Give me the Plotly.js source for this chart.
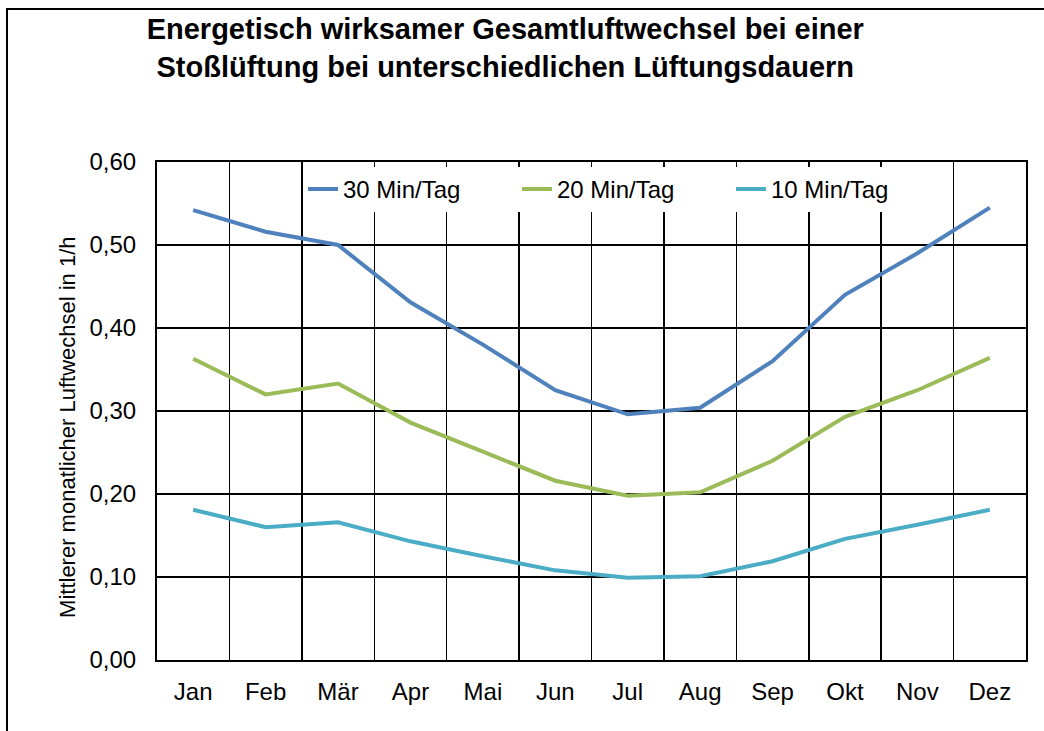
<!DOCTYPE html>
<html>
<head>
<meta charset="utf-8">
<script src="https://cdn.plot.ly/plotly-3.0.1.min.js"></script>
<style>
  html, body { margin: 0; padding: 0; background: #fff; }
  #chart { width: 1044px; height: 731px; }
</style>
</head>
<body>
<div id="chart"></div>
<script>
// Monate (Kategorien)
const monate = ['Jan', 'Feb', 'Mär', 'Apr', 'Mai', 'Jun', 'Jul', 'Aug', 'Sep', 'Okt', 'Nov', 'Dez'];

// mittlerer monatlicher Luftwechsel in 1/h
const min30 = [0.542, 0.516, 0.500, 0.431, 0.380, 0.325, 0.296, 0.304, 0.360, 0.440, 0.490, 0.545];
const min20 = [0.363, 0.320, 0.333, 0.286, 0.251, 0.216, 0.198, 0.202, 0.240, 0.293, 0.325, 0.364];
const min10 = [0.181, 0.160, 0.166, 0.143, 0.125, 0.108, 0.099, 0.101, 0.119, 0.146, 0.163, 0.181];

const serienNamen = ['30 Min/Tag', '20 Min/Tag', '10 Min/Tag'];
const farben = ['#4f81bd', '#9bbb59', '#4bacc6'];

const werte = [min30, min20, min10];
const data = werte.map((y, i) => ({
    x: monate,
    y: y,
    type: 'scatter',
    mode: 'lines',
    name: serienNamen[i],
    line: { color: farben[i], width: 4 }
}));

const layout = {
    width: 1044,
    height: 731,
    margin: { l: 157, r: 18, t: 162, b: 71 },
    paper_bgcolor: '#fff',
    plot_bgcolor: '#fff',
    separators: ',.',
    font: { family: 'Liberation Sans, Arial, sans-serif', size: 24, color: '#000' },
    title: {
        text: '<b>Energetisch wirksamer Gesamtluftwechsel bei einer<br>Stoßlüftung bei unterschiedlichen Lüftungsdauern</b>',
        font: { size: 29, color: '#000' },
        x: 0.484,
        xanchor: 'center',
        y: 0.946,
        yanchor: 'top'
    },
    showlegend: true,
    legend: {
        orientation: 'h',
        x: 0.168,
        y: 0.945,
        xanchor: 'left',
        yanchor: 'middle',
        bgcolor: '#fff',
        font: { size: 24 },
        entrywidth: 169,
        entrywidthmode: 'pixels',
        tracegroupgap: 0
    },
    xaxis: {
        type: 'category',
        tickson: 'boundaries',
        showgrid: true,
        gridcolor: '#000',
        gridwidth: 1.5,
        showline: true,
        linecolor: '#000',
        linewidth: 2,
        mirror: true,
        ticks: '',
        ticklabelstandoff: 9,
        range: [-0.5, 11.5],
        zeroline: false
    },
    yaxis: {
        range: [0, 0.6],
        dtick: 0.1,
        tickformat: '.2f',
        showgrid: true,
        gridcolor: '#000',
        gridwidth: 1.5,
        showline: true,
        linecolor: '#000',
        linewidth: 2,
        mirror: true,
        ticks: '',
        ticklabelstandoff: 14,
        zeroline: false
    },
    annotations: [{
        text: 'Mittlerer monatlicher Luftwechsel in 1/h',
        xref: 'paper', yref: 'paper',
        x: -0.1024, y: 0.468,
        xanchor: 'center', yanchor: 'middle',
        textangle: -90,
        showarrow: false,
        font: { size: 22 }
    }],
    shapes: [{
        type: 'rect',
        xref: 'paper', yref: 'paper',
        x0: -0.1726, x1: 1.1, y0: -0.2, y1: 1.307,
        line: { color: '#000', width: 2 },
        fillcolor: 'rgba(0,0,0,0)',
        layer: 'above'
    }]
};

Plotly.newPlot('chart', data, layout, { displayModeBar: false, staticPlot: true });
</script>
</body>
</html>
